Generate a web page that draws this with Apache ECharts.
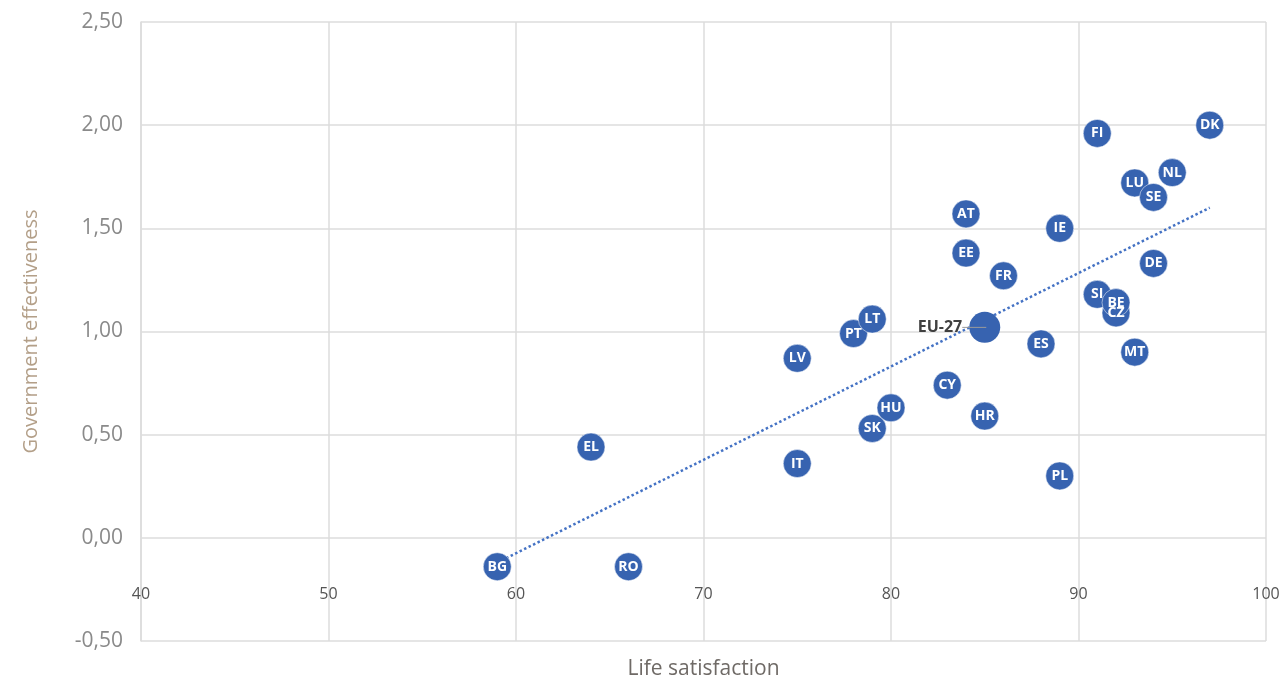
<!DOCTYPE html>
<html>
<head>
<meta charset="utf-8">
<script src="https://cdn.jsdelivr.net/npm/echarts@6/dist/echarts.min.js"></script>
<style>
  html, body { margin: 0; padding: 0; background: #fff; }
  #chart { width: 1286px; height: 681px; }
</style>
</head>
<body>
<div id="chart"></div>
<script>
// country codes, life satisfaction (x) and government effectiveness (y)
const countries = ["BG", "RO", "EL", "IT", "LV", "PT", "LT", "SK", "HU", "CY", "HR", "AT", "EE", "FR", "ES", "IE", "PL", "FI", "SI", "CZ", "BE", "MT", "LU", "SE", "NL", "DE", "DK"];
const lifeSatisfaction = [59, 66, 64, 75, 75, 78, 79, 79, 80, 83, 85, 84, 84, 86, 88, 89, 89, 91, 91, 92, 92, 93, 93, 94, 95, 94, 97];
const govEffectiveness = [-0.14, -0.14, 0.44, 0.36, 0.87, 0.99, 1.06, 0.53, 0.63, 0.74, 0.59, 1.57, 1.38, 1.27, 0.94, 1.50, 0.30, 1.96, 1.18, 1.09, 1.14, 0.90, 1.72, 1.65, 1.77, 1.33, 2.00];
const euAverage = [85, 1.02];
const trendLine = [[59, -0.12], [97, 1.60]];

const font = "'Liberation Sans Narrow', 'Open Sans', sans-serif";
const blue = "#3763b0";

const points = countries.map((c, i) => [lifeSatisfaction[i], govEffectiveness[i], c]);

const chart = echarts.init(document.getElementById("chart"));
chart.setOption({
    animation: false,
    grid: { left: 141, right: 20, top: 22, bottom: 40, outerBoundsMode: "none" },
    xAxis: {
        type: "value",
        min: 40,
        max: 100,
        interval: 10,
        name: "Life satisfaction",
        nameLocation: "middle",
        nameGap: 18,
        nameTextStyle: { color: "#6f6a66", fontSize: 21, fontFamily: font },
        axisLine: { show: false, onZero: false },
        axisTick: { show: false },
        axisLabel: { color: "#555555", fontSize: 16, fontFamily: font, margin: -55 },
        splitLine: { lineStyle: { color: "#dcdcdc", width: 1.5 } },
    },
    yAxis: {
        type: "value",
        min: -0.5,
        max: 2.5,
        interval: 0.5,
        name: "Government effectiveness",
        nameLocation: "middle",
        nameGap: 100,
        nameTextStyle: { color: "#b39f88", fontSize: 20, fontFamily: font },
        axisLine: { show: true, lineStyle: { color: "#dcdcdc", width: 1.5 } },
        axisTick: { show: false },
        axisLabel: {
            color: "#8a8a8a",
            fontSize: 21,
            fontFamily: font,
            margin: 18,
            formatter: (v) => v.toFixed(2).replace(".", ","),
        },
        splitLine: { lineStyle: { color: "#dcdcdc", width: 1.5 } },
    },
    series: [
        {
            type: "line",
            data: trendLine,
            symbol: "none",
            z: 1,
            lineStyle: { color: "#4472c4", width: 2.5, type: "dotted" },
        },
        {
            type: "scatter",
            data: points,
            symbolSize: 28,
            z: 3,
            itemStyle: { color: blue, opacity: 1, borderColor: "#ffffff", borderWidth: 0.5 },
            label: {
                show: true,
                position: "inside",
                formatter: (p) => p.data[2],
                color: "#ffffff",
                fontSize: 14,
                fontWeight: "bold",
                fontFamily: font,
            },
        },
        {
            type: "scatter",
            data: [euAverage],
            symbolSize: 31,
            z: 2,
            itemStyle: { color: blue, opacity: 1 },
            label: {
                show: true,
                position: "left",
                distance: -17,
                formatter: "{t|EU-27}{l|}",
                rich: {
                    t: { color: "#404040", fontSize: 16, fontWeight: "bold", fontFamily: font },
                    l: { width: 24, height: 1, backgroundColor: "#9a9a9a" },
                },
            },
        },
    ],
});
</script>
</body>
</html>
